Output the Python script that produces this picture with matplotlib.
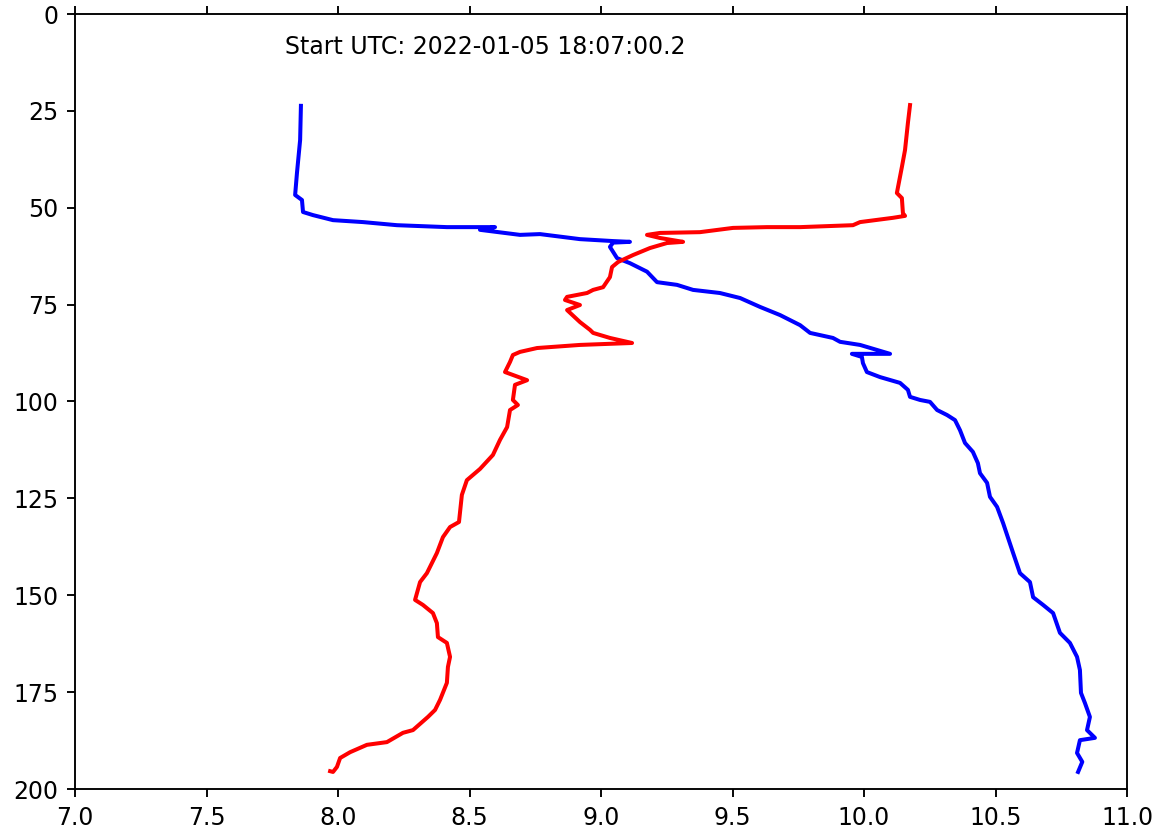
import numpy as np
import matplotlib
matplotlib.use('Agg')
import matplotlib.pyplot as plt

# profile 1 (blue): value vs depth
blue_x = [7.859, 7.856, 7.844, 7.837, 7.863, 7.867, 7.905, 7.981, 8.095, 8.224,
          8.414, 8.597, 8.540, 8.692, 8.768, 8.920, 9.046, 9.110, 9.046, 9.034,
          9.061, 9.110, 9.175, 9.213, 9.289, 9.350, 9.452, 9.529, 9.605, 9.681,
          9.757, 9.795, 9.882, 9.909, 9.985, 10.099, 9.954, 9.992, 9.996, 10.011,
          10.061, 10.137, 10.167, 10.175, 10.213, 10.251, 10.278, 10.316, 10.346, 10.365,
          10.384, 10.414, 10.433, 10.441, 10.468, 10.479, 10.506, 10.529, 10.567, 10.593,
          10.631, 10.643, 10.681, 10.719, 10.745, 10.783, 10.810, 10.821, 10.825, 10.840,
          10.859, 10.848, 10.878, 10.821, 10.810, 10.830, 10.814]
blue_y = [23.7, 32.5, 41.0, 46.7, 48.0, 51.1, 51.9, 53.2, 53.7, 54.5,
          55.0, 55.0, 55.7, 57.0, 56.8, 58.1, 58.6, 58.8, 59.0, 60.1,
          63.0, 64.3, 66.5, 69.2, 69.9, 71.2, 72.0, 73.3, 75.6, 77.7,
          80.3, 82.3, 83.6, 84.6, 85.4, 87.7, 87.7, 88.5, 90.1, 92.4,
          93.7, 95.2, 97.0, 98.8, 99.6, 100.1, 102.2, 103.5, 104.8, 107.4,
          110.7, 113.0, 115.9, 118.5, 121.0, 124.6, 127.2, 131.4, 139.1, 144.3,
          146.6, 150.5, 152.5, 154.6, 159.7, 162.3, 165.9, 169.3, 175.2, 177.8,
          181.4, 184.8, 186.8, 187.4, 190.7, 193.0, 195.6]

# profile 2 (red)
red_x = [10.175, 10.167, 10.156, 10.144, 10.125, 10.144, 10.148, 10.156, 10.110, 9.985,
         9.958, 9.757, 9.631, 9.502, 9.376, 9.224, 9.175, 9.224, 9.312, 9.251,
         9.186, 9.122, 9.065, 9.042, 9.034, 9.008, 8.970, 8.947, 8.871, 8.863,
         8.920, 8.871, 8.920, 8.958, 8.970, 9.034, 9.118, 8.920, 8.757, 8.692,
         8.665, 8.654, 8.635, 8.719, 8.673, 8.665, 8.684, 8.654, 8.643, 8.616,
         8.589, 8.540, 8.490, 8.471, 8.460, 8.426, 8.399, 8.376, 8.338, 8.312,
         8.293, 8.323, 8.361, 8.376, 8.380, 8.414, 8.426, 8.418, 8.414, 8.388,
         8.369, 8.342, 8.285, 8.247, 8.186, 8.110, 8.046, 8.008, 7.996, 7.981,
         7.970]
red_y = [23.5, 28.1, 35.1, 39.5, 46.2, 47.5, 51.4, 52.1, 52.6, 53.7,
         54.5, 55.0, 55.0, 55.2, 56.3, 56.5, 57.0, 57.8, 58.8, 59.1,
         60.4, 62.2, 64.0, 65.3, 67.9, 70.5, 71.2, 72.0, 73.0, 73.8,
         75.1, 76.4, 79.5, 81.5, 82.3, 83.6, 84.9, 85.4, 86.2, 87.2,
         88.0, 89.8, 92.4, 94.5, 95.7, 99.6, 100.9, 102.2, 106.6, 109.9,
         113.8, 117.4, 120.3, 124.1, 131.1, 132.4, 135.0, 139.1, 144.3, 146.6,
         151.2, 152.5, 154.6, 157.2, 160.8, 162.3, 165.9, 168.5, 172.6, 177.0,
         179.6, 181.4, 184.8, 185.5, 187.9, 188.6, 190.5, 192.0, 194.3, 195.6,
         195.4]

start_label = 'Start UTC: 2022-01-05 18:07:00.2'

fig = plt.figure(figsize=(1155/170, 829/170), dpi=170)
ax = fig.add_axes([75/1155, 1-789/829, (1127-75)/1155, (789-14)/829])

ax.plot(blue_x, blue_y, color='b', lw=1.7)
ax.plot(red_x, red_y, color='r', lw=1.7)

ax.set_xlim(7, 11)
ax.set_ylim(200, 0)
ax.set_yticks(np.arange(0, 201, 25))
ax.tick_params(top=True)
ax.text(7.8, 10.3, start_label)

fig.savefig('out.png', dpi=170)
